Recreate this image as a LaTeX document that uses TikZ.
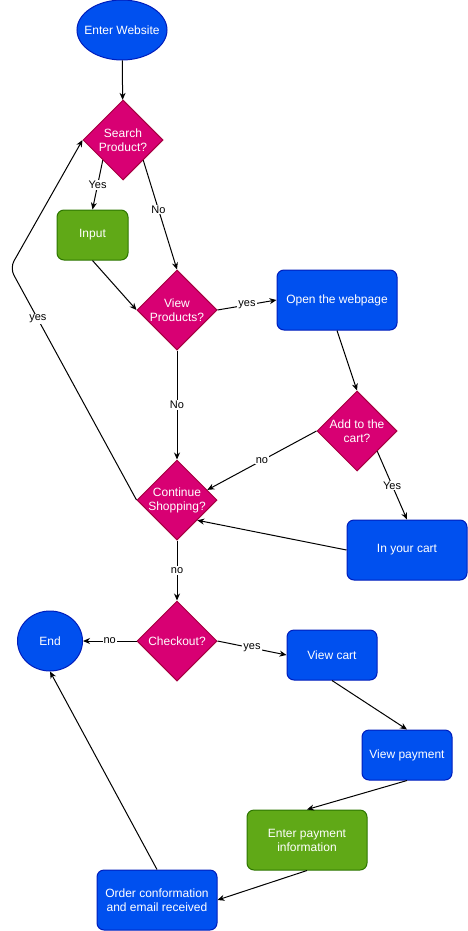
\documentclass[tikz,border=0pt]{standalone}
\usepackage{fontspec}
\setmainfont{Liberation Sans}
\usetikzlibrary{calc,arrows.meta,shapes.geometric}
\definecolor{flowblue}{HTML}{0050EF}
\definecolor{flowblueline}{HTML}{001DBC}
\definecolor{flowpink}{HTML}{D80073}
\definecolor{flowpinkline}{HTML}{A50040}
\definecolor{flowgreen}{HTML}{60A917}
\definecolor{flowgreenline}{HTML}{2D7600}

\begin{document}
\begin{tikzpicture}[x=1pt, y=-1pt,
    box/.style={draw=flowblueline, fill=flowblue, text=white, line width=1pt, rounded corners=7pt,
                align=center, inner sep=0pt, minimum width=120pt, minimum height=60pt,
                font=\fontsize{12}{14}\selectfont},
    greenbox/.style={box, draw=flowgreenline, fill=flowgreen},
    decision/.style={box, diamond, sharp corners, draw=flowpinkline, fill=flowpink,
                     minimum width=80pt, minimum height=80pt, inner xsep=-20pt},
    terminal/.style={box, ellipse, sharp corners, minimum height=60pt, inner xsep=-20pt},
    arrow/.style={-{Stealth[length=7pt,width=6pt]}, line width=1pt},
    lbl/.style={font=\fontsize{11}{13}\selectfont, fill=white, inner sep=1pt}
  ]
    \useasboundingbox (0,0) rectangle (468,931);

    \node[terminal, minimum width=90pt] (start) at (122,30) {Enter Website};
    \node[decision] (search) at (123,140) {Search\\Product?};
    \node[greenbox, minimum width=71pt, minimum height=50pt] (input) at (92.5,235) {Input};
    \node[decision] (view) at (177,310) {View\\Products?};
    \node[box] (open) at (337,300) {Open the webpage};
    \node[decision] (add) at (357,431) {Add to the\\cart?};
    \node[decision] (cont) at (177,500) {Continue\\Shopping?};
    \node[box] (cart) at (407,550) {In your cart};
    \node[decision] (checkout) at (177,641) {Checkout?};
    \node[terminal, minimum width=65pt] (end) at (50,641) {End};
    \node[box, minimum width=90pt, minimum height=50pt] (viewcart) at (332,655) {View cart};
    \node[box, minimum width=90pt, minimum height=50pt] (viewpay) at (407,755) {View payment};
    \node[greenbox] (enterpay) at (307,840) {Enter payment\\information};
    \node[box] (order) at (157,900) {Order conformation\\and email received};
    \coordinate (loop) at (10,268);

    \draw[arrow] (start) -- (search);
    \draw[arrow] (search.south west) -- node[lbl] {Yes} (input.north);
    \draw[arrow] (search.south east) -- node[lbl, pos=0.45] {No} (view.north);
    \draw[arrow] (input.south) -- (view.west);
    \draw[arrow] (view.east) -- node[lbl] {yes} (open.west);
    \draw[arrow] (view) -- node[lbl] {No} (cont);
    \draw[arrow] (open.south) -- (add.north);
    \draw[arrow] (add.west) -- node[lbl] {no} ($(cont.north)!0.75!(cont.east)$);
    \draw[arrow] (add.south east) -- node[lbl] {Yes} (cart.north);
    \draw[arrow] (cart.west) -- (cont.south east);
    \draw[arrow, rounded corners=8pt] (cont.west) -- node[lbl, pos=0.78] {yes} (loop) -- (search.west);
    \draw[arrow] (cont) -- node[lbl] {no} (checkout);
    \draw[arrow] (checkout) -- node[lbl] {no} (end);
    \draw[arrow] (checkout.east) -- node[lbl] {yes} (viewcart.west);

    \foreach \a/\b in {viewcart.south/viewpay.north, viewpay.south/enterpay.north,
                       enterpay.south/order.east, order.north/end.south}
      \draw[arrow] (\a) -- (\b);
  \end{tikzpicture}
\end{document}
